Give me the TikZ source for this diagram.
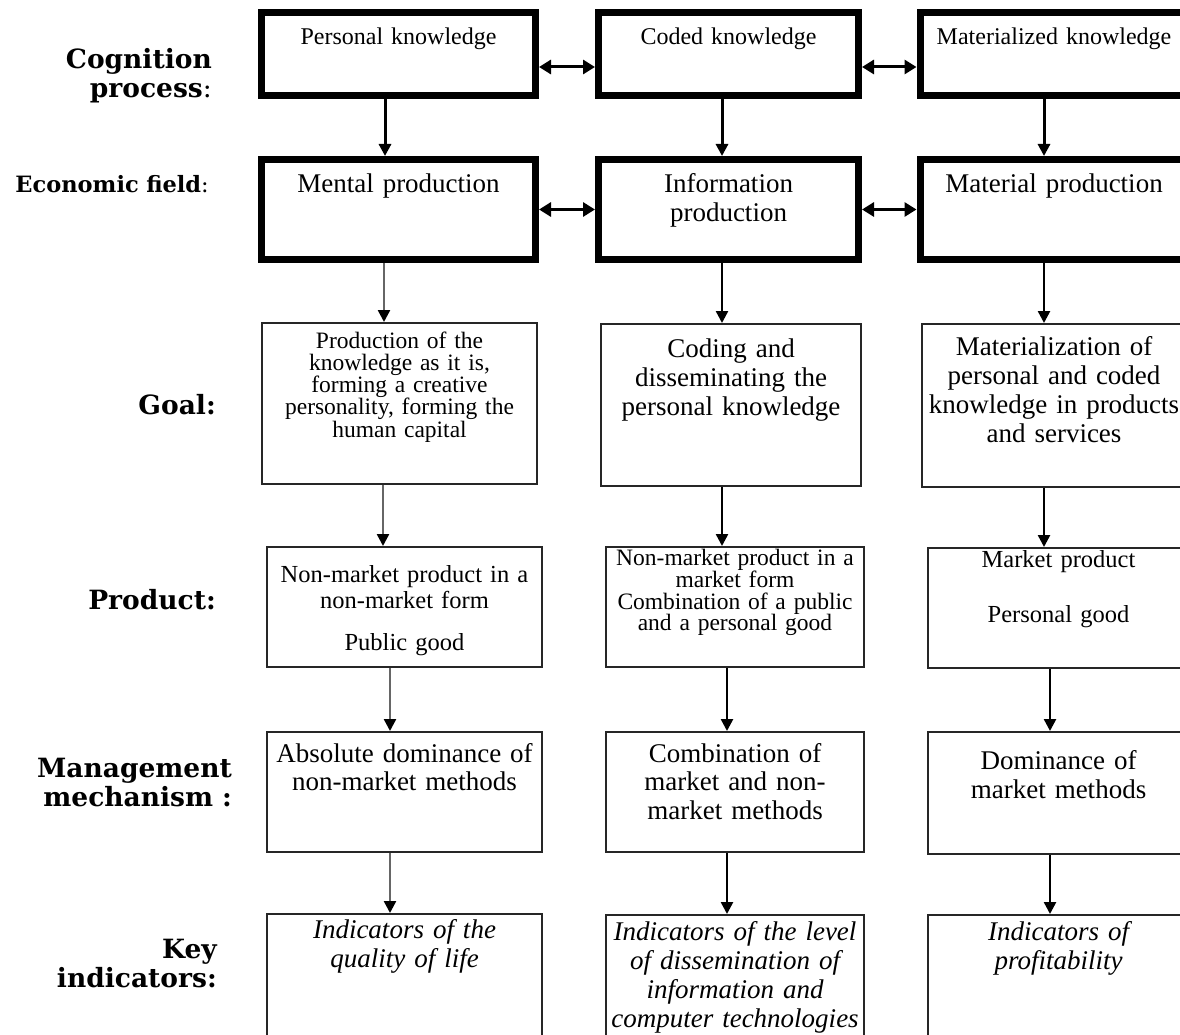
\documentclass[tikz,border=0pt]{standalone}
\usepackage{fontspec}
\setmainfont{Liberation Serif}
\newfontfamily\labelfont{DejaVu Serif}
\usetikzlibrary{arrows.meta}

\begin{document}
\begin{tikzpicture}[x=1pt, y=-1pt,
  knowbox/.style={draw, line width=7pt, inner xsep=2pt, inner ysep=0pt, align=center, anchor=north},
  thinbox/.style={draw=black!85, line width=1.8pt, inner xsep=2pt, inner ysep=0pt, align=center, anchor=north},
  rowlabel/.style={font=\labelfont\bfseries\fontsize{26.5}{29}\selectfont, text width=240pt, align=right, anchor=base east, inner sep=0pt},
  varr/.style={line width=2.5pt, -{Triangle[length=12pt, width=12pt]}},
  grayarr/.style={line width=2.5pt, draw=black!60, -{Triangle[length=12pt, width=12pt, color=black]}},
  harr/.style={line width=3pt, {Triangle[length=12pt, width=14pt]}-{Triangle[length=12pt, width=14pt]}}]
  \useasboundingbox (0,0) rectangle (1180,1035);
  \clip (0,0) rectangle (1180,1035);

  % row labels
  \node[rowlabel] (cog) at (212,69) {Cognition\\process{\mdseries :}};
  \node[rowlabel, font=\labelfont\bfseries\fontsize{22.5}{25}\selectfont] (eco) at (209,193) {Economic field{\mdseries :}};
  \node[rowlabel] (goal) at (216,414) {Goal:};
  \node[rowlabel] (prod) at (216,609) {Product:};
  \node[rowlabel] (mgmt) at (232,777) {Management\\mechanism :};
  \node[rowlabel] (key) at (217,958) {Key\\indicators:};

  % cognition process
  \node[knowbox, text width=270pt, text height=32.5pt, text depth=50.5pt, font=\fontsize{24}{27}\selectfont] (pk) at (398.5,9) {Personal knowledge};
  \node[knowbox, text width=256pt, text height=32.5pt, text depth=50.5pt, font=\fontsize{24}{27}\selectfont] (ck) at (728.5,9) {Coded knowledge};
  \node[knowbox, text width=264pt, text height=32.5pt, text depth=50.5pt, font=\fontsize{24}{27}\selectfont] (mk) at (1054,9) {Materialized knowledge};

  % economic field
  \node[knowbox, text width=270pt, text height=33.5pt, text depth=66.5pt, font=\fontsize{27}{29}\selectfont] (mp) at (398.5,156) {Mental production};
  \node[knowbox, text width=256pt, text height=33.5pt, text depth=66.5pt, font=\fontsize{27}{29}\selectfont] (ip) at (728.5,156) {Information\\production};
  \node[knowbox, text width=264pt, text height=33.5pt, text depth=66.5pt, font=\fontsize{27}{29}\selectfont] (matp) at (1054,156) {Material production};

  % goal
  \node[thinbox, text width=271pt, text height=25.1pt, text depth=136.1pt, font=\fontsize{23.5}{22.3}\selectfont] (gl) at (399.5,322)
       {Production of the\\knowledge as it is,\\forming a creative\\personality, forming the\\human capital};
  \node[thinbox, text width=256pt, text height=33.1pt, text depth=129.1pt, font=\fontsize{27}{29}\selectfont] (gm) at (731,323)
       {Coding and\\disseminating the\\personal knowledge};
  \node[thinbox, text width=260pt, text height=31.1pt, text depth=132.1pt, font=\fontsize{27}{29.3}\selectfont] (gr) at (1054,323)
       {Materialization of\\personal and coded\\knowledge in products\\and services};

  % product
  \node[thinbox, text width=271pt, text height=35.1pt, text depth=85.1pt, font=\fontsize{24.5}{26}\selectfont] (pl) at (404.5,546)
       {Non-market product in a\\non-market form\\[16pt]Public good};
  \node[thinbox, text width=254pt, text height=18.6pt, text depth=101.6pt, font=\fontsize{23.5}{21.8}\selectfont] (pm) at (735,546)
       {Non-market product in a\\market form\\Combination of a public\\and a personal good};
  \node[thinbox, text width=257pt, text height=19.1pt, text depth=101.1pt, font=\fontsize{24.5}{27.5}\selectfont] (pr) at (1058.5,547)
       {Market product\\[27.5pt]Personal good};

  % management mechanism
  \node[thinbox, text width=271pt, text height=30.1pt, text depth=90.1pt, font=\fontsize{27}{28}\selectfont] (ml) at (404.5,731)
       {Absolute dominance of\\non-market methods};
  \node[thinbox, text width=254pt, text height=30.1pt, text depth=90.1pt, font=\fontsize{27}{28.7}\selectfont] (mm) at (735,731)
       {Combination of\\market and non-\\market methods};
  \node[thinbox, text width=257pt, text height=37.1pt, text depth=85.1pt, font=\fontsize{27}{29}\selectfont] (mr) at (1058.5,731)
       {Dominance of\\market methods};

  % key indicators
  \node[thinbox, text width=271pt, text height=24.1pt, text depth=111.1pt, font=\itshape\fontsize{27}{29}\selectfont] (kl) at (404.5,913)
       {Indicators of the\\quality of life};
  \node[thinbox, text width=254pt, text height=25.1pt, text depth=110.1pt, font=\itshape\fontsize{27}{29}\selectfont] (km) at (735,914)
       {Indicators of the level\\of dissemination of\\information and\\computer technologies};
  \node[thinbox, text width=257pt, text height=25.1pt, text depth=110.1pt, font=\itshape\fontsize{27}{29}\selectfont] (kr) at (1058.5,914)
       {Indicators of\\profitability};

  % links between columns
  \draw[harr] ([yshift=-13pt]pk.east) -- ([yshift=-13pt]ck.west);
  \draw[harr] ([yshift=-13pt]ck.east) -- ([yshift=-13pt]mk.west);
  \draw[harr] (mp.east) -- (ip.west);
  \draw[harr] (ip.east) -- (matp.west);

  % downward links
  \draw[varr, line width=3pt] ([xshift=-13.5pt]pk.south) -- ([xshift=-13.5pt]mp.north);
  \draw[varr, line width=3pt] ([xshift=-6.5pt]ck.south) -- ([xshift=-6.5pt]ip.north);
  \draw[varr, line width=3pt] ([xshift=-10pt]mk.south) -- ([xshift=-10pt]matp.north);

  \draw[grayarr] ([xshift=-14.5pt]mp.south) -- ([xshift=-15.5pt]gl.north);
  \draw[varr] ([xshift=-6.5pt]ip.south) -- ([xshift=-9pt]gm.north);
  \draw[varr] ([xshift=-10pt]matp.south) -- ([xshift=-10pt]gr.north);

  \draw[grayarr] ([xshift=-16.5pt]gl.south) -- ([xshift=-21.5pt]pl.north);
  \draw[varr] ([xshift=-9pt]gm.south) -- ([xshift=-13pt]pm.north);
  \draw[varr] ([xshift=-10pt]gr.south) -- ([xshift=-14.5pt]pr.north);

  \draw[grayarr] ([xshift=-14.5pt]pl.south) -- ([xshift=-14.5pt]ml.north);
  \draw[varr] ([xshift=-8pt]pm.south) -- ([xshift=-8pt]mm.north);
  \draw[varr] ([xshift=-8.5pt]pr.south) -- ([xshift=-8.5pt]mr.north);

  \draw[grayarr] ([xshift=-14.5pt]ml.south) -- ([xshift=-14.5pt]kl.north);
  \draw[varr] ([xshift=-8pt]mm.south) -- ([xshift=-8pt]km.north);
  \draw[varr] ([xshift=-8.5pt]mr.south) -- ([xshift=-8.5pt]kr.north);
\end{tikzpicture}
\end{document}
